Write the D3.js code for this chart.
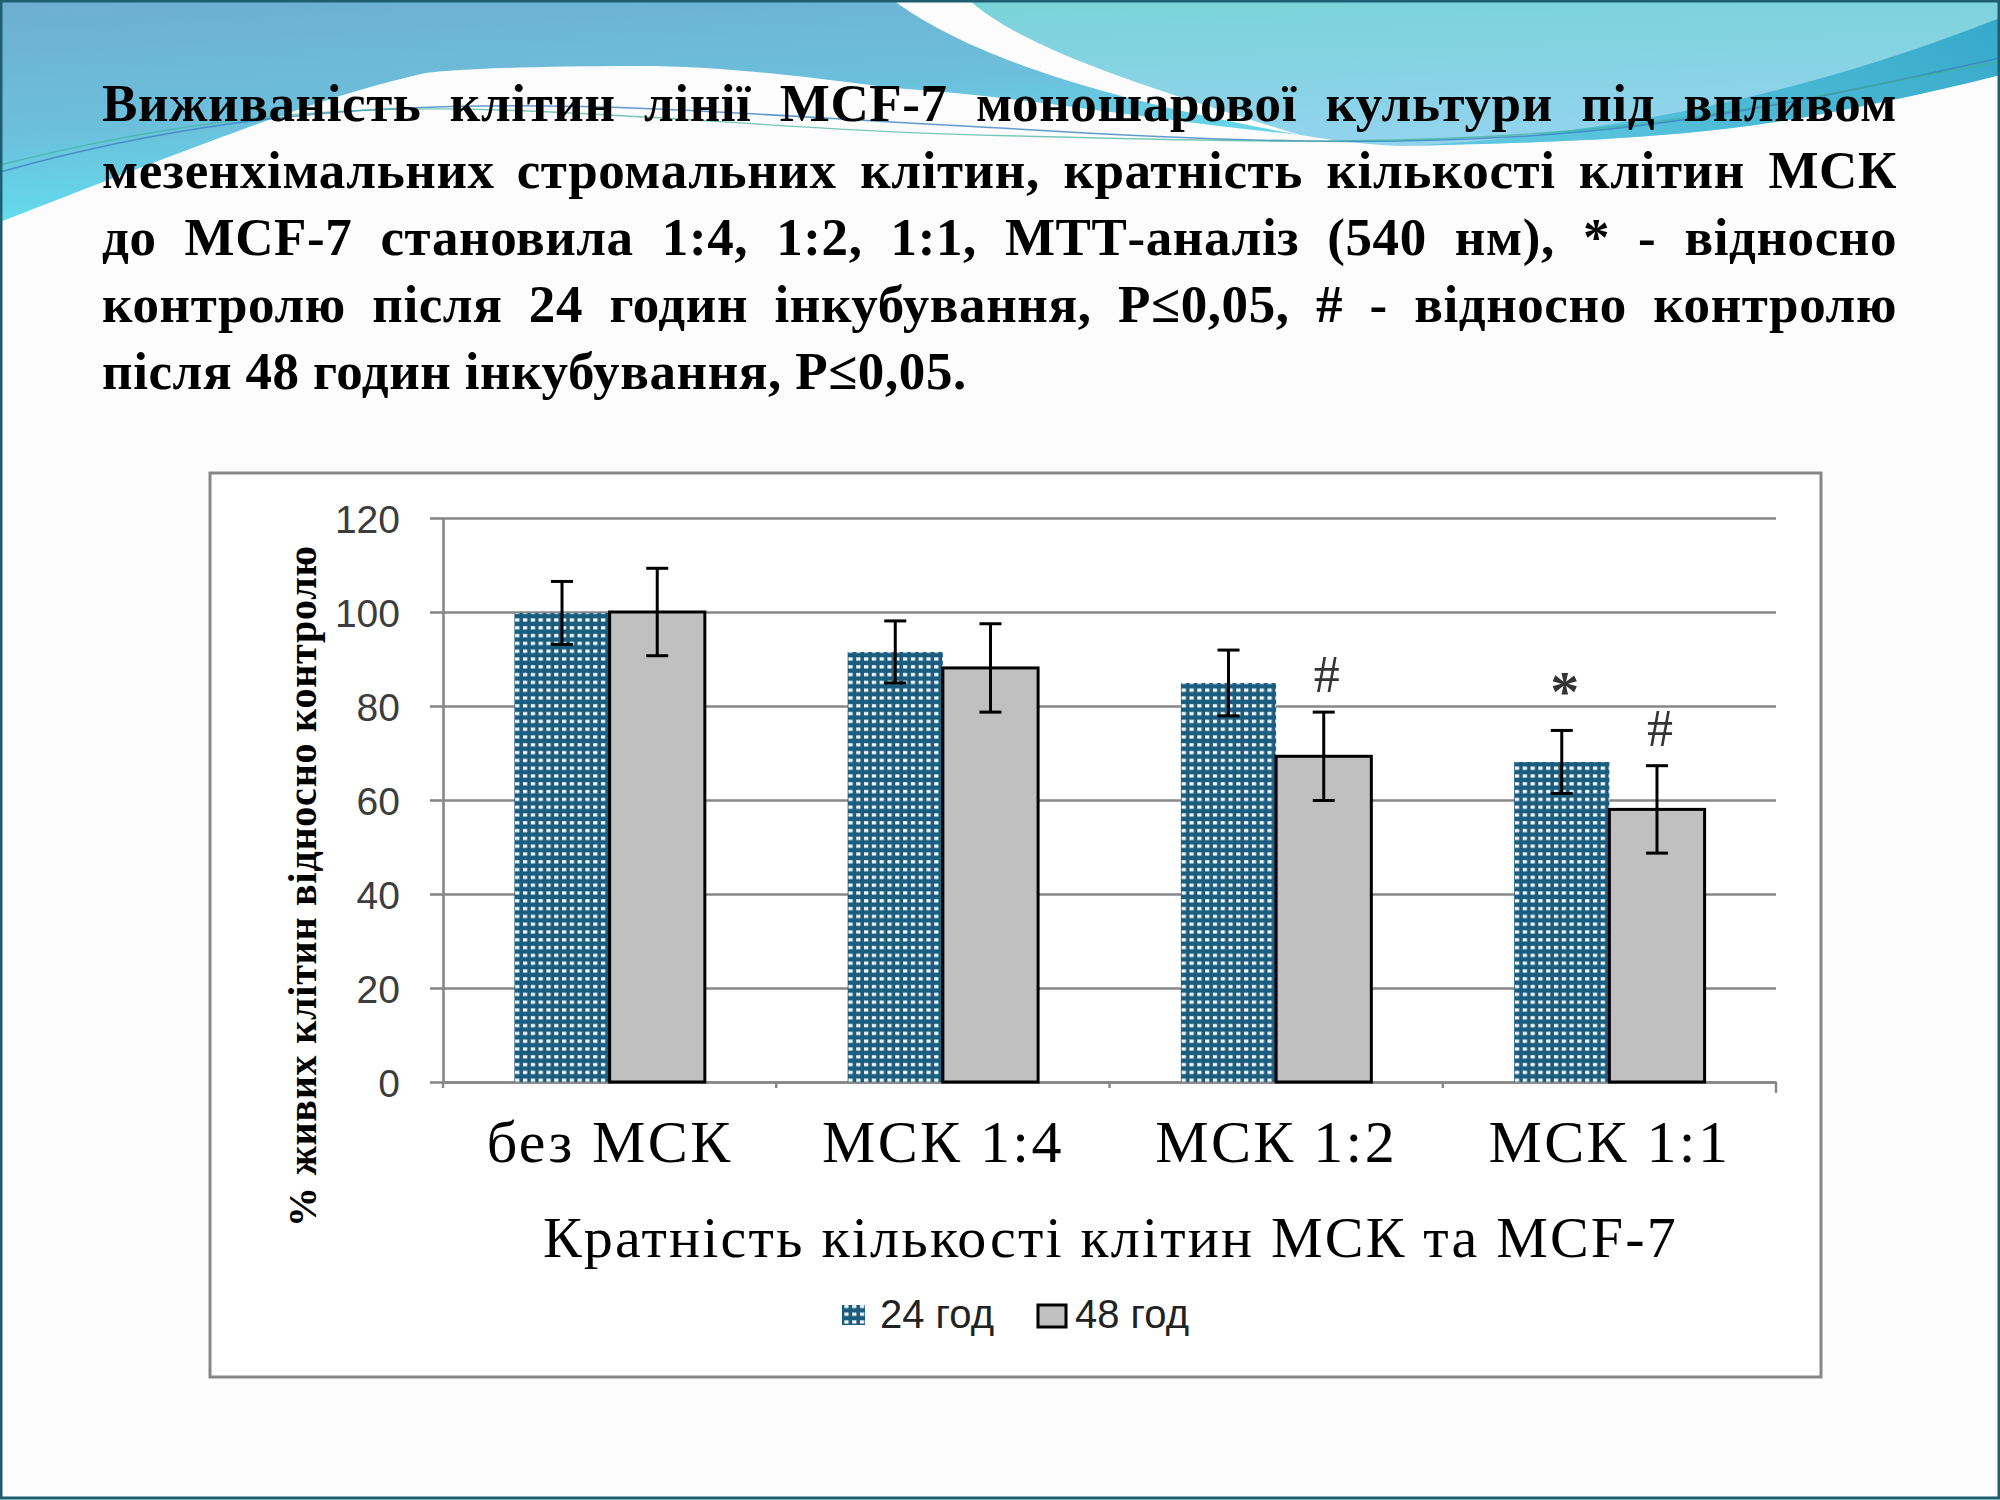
<!DOCTYPE html>
<html>
<head>
<meta charset="utf-8">
<script src="https://cdn.jsdelivr.net/npm/d3@7/dist/d3.min.js"></script>
<style>
  html, body { margin: 0; padding: 0; background: #fcfcfc; }
  svg { display: block; }
</style>
</head>
<body>
<svg id="chart" width="2000" height="1500"></svg>
<script>
// ---------- DATA ----------
const categories = ["без МСК", "МСК 1:4", "МСК 1:2", "МСК 1:1"];
const seriesNames = ["24 год", "48 год"];
const values24 = [99.8, 91.5, 84.9, 68.1];
const errors24 = [6.7, 6.6, 7.0, 6.7];
const values48 = [100.0, 88.1, 69.3, 58.0];
const errors48 = [9.3, 9.4, 9.4, 9.3];
const marks24 = ["", "", "", "*"];
const marks48 = ["", "", "#", "#"];
const yTicks = [0, 20, 40, 60, 80, 100, 120];
const yTitle = "% живих клітин відносно контролю";
const xTitle = "Кратність кількості клітин МСК та MCF-7";
const titleLines = [
  "Виживаність клітин лінії MCF-7 моношарової культури під впливом",
  "мезенхімальних стромальних клітин, кратність кількості клітин МСК",
  "до MCF-7 становила 1:4, 1:2, 1:1, МТТ-аналіз (540 нм), * - відносно",
  "контролю після 24 годин інкубування, P≤0,05, # - відносно контролю",
  "після 48 годин інкубування, P≤0,05."
];

// ---------- SETUP ----------
const svg = d3.select("#chart");
const serif = "'Liberation Serif', 'Times New Roman', serif";
const sans = "'Liberation Sans', Arial, sans-serif";
const defs = svg.append("defs");

// gradients for slide decoration
const gA = defs.append("linearGradient").attr("id", "gA")
  .attr("x1", "0").attr("y1", "0").attr("x2", "0.35").attr("y2", "1");
gA.append("stop").attr("offset", "0").attr("stop-color", "#6eaed0");
gA.append("stop").attr("offset", "0.55").attr("stop-color", "#6cc0dc");
gA.append("stop").attr("offset", "1").attr("stop-color", "#5fe4f2");
const gB = defs.append("linearGradient").attr("id", "gB")
  .attr("x1", "0").attr("y1", "0").attr("x2", "0.2").attr("y2", "1");
gB.append("stop").attr("offset", "0").attr("stop-color", "#79d3d8");
gB.append("stop").attr("offset", "1").attr("stop-color", "#92d3ee");
const gC = defs.append("linearGradient").attr("id", "gC")
  .attr("x1", "1").attr("y1", "0").attr("x2", "0").attr("y2", "0.3");
gC.append("stop").attr("offset", "0").attr("stop-color", "#36a9c9");
gC.append("stop").attr("offset", "1").attr("stop-color", "#5cc6df");

// dotted pattern for 24 h bars
const pat = defs.append("pattern").attr("id", "dots")
  .attr("patternUnits", "userSpaceOnUse").attr("width", 7.8).attr("height", 7.8);
pat.append("rect").attr("width", 7.8).attr("height", 7.8).attr("fill", "#1a5d7f");
pat.append("rect").attr("x", 2).attr("y", 2.2).attr("width", 4.2).attr("height", 3.2).attr("fill", "#ffffff");

// ---------- SLIDE BACKGROUND ----------
const bg = svg.append("g");
bg.append("rect").attr("width", 2000).attr("height", 1500).attr("fill", "#fcfcfc");
// region A (left blue)
bg.append("path").attr("fill", "url(#gA)")
  .attr("d", "M0,0 H893 C960,50 1080,95 1300,135 C1150,120 1020,96 893,88 C800,76 720,66 638,66 C520,66 440,70 421,74 C330,95 250,125 0,222 Z");
// region B (right light)
bg.append("path").attr("fill", "url(#gB)")
  .attr("d", "M969,0 H2000 V75 C1960,85 1900,100 1800,118 C1700,135 1600,142 1400,146 C1360,144 1330,140 1300,135 C1120,80 1020,45 969,0 Z");
// region C (darker teal crescent at right)
bg.append("path").attr("fill", "url(#gC)")
  .attr("d", "M2000,18 C1930,45 1840,78 1700,108 C1600,128 1500,142 1400,146 C1600,142 1700,135 1800,118 C1900,100 1960,85 2000,75 Z");
// thin decorative waves
bg.append("path").attr("fill", "none").attr("stroke", "#3a82c2").attr("stroke-width", 1.6).attr("opacity", 0.8)
  .attr("d", "M0,172 C150,130 300,108 480,106 C650,104 800,118 1000,128 C1200,140 1400,150 1600,130 C1750,115 1900,80 2000,58");
bg.append("path").attr("fill", "none").attr("stroke", "#3fb09a").attr("stroke-width", 1.4).attr("opacity", 0.7)
  .attr("d", "M0,165 C170,122 320,104 500,110 C680,116 820,132 1020,136 C1220,141 1420,148 1620,126 C1780,108 1900,78 2000,62");
// frame
bg.append("rect").attr("x", 1).attr("y", 1).attr("width", 1998).attr("height", 1497)
  .attr("fill", "none").attr("stroke", "#1e5e70").attr("stroke-width", 3);

// ---------- TITLE (justified) ----------
const titleLeft = 102, titleRight = 1897, titleTop = 121, lineStep = 67, titleSize = 53;
titleLines.forEach((line, i) => {
  const words = line.split(" ");
  const t = svg.append("text")
    .attr("font-family", serif).attr("font-weight", "bold").attr("font-size", titleSize)
    .attr("letter-spacing", 0.6)
    .attr("fill", "#000").attr("y", titleTop + i * lineStep);
  const spans = words.map(w => t.append("tspan").text(w));
  const widths = spans.map(s => s.node().getComputedTextLength());
  const total = d3.sum(widths);
  const last = i === titleLines.length - 1;
  const space = titleSize * 0.25;
  const gap = last ? space : (titleRight - titleLeft - total) / (words.length - 1);
  let xPos = titleLeft;
  spans.forEach((s, k) => { s.attr("x", xPos); xPos += widths[k] + gap; });
});

// ---------- CHART BOX ----------
svg.append("rect").attr("x", 210).attr("y", 473).attr("width", 1611).attr("height", 904)
  .attr("fill", "#ffffff").attr("stroke", "#878787").attr("stroke-width", 3);

const plotL = 443, plotR = 1776, plotB = 1082, plotT = 518;
const x = d3.scaleBand().domain(categories).range([plotL, plotR]).paddingInner(0).paddingOuter(0);
const xs = d3.scaleBand().domain(seriesNames).range([0, x.bandwidth()]).paddingInner(0).paddingOuter(0.75);
const y = d3.scaleLinear().domain([0, 120]).range([plotB, plotT]);

// gridlines
svg.append("g").attr("transform", `translate(${plotL},0)`)
  .call(d3.axisLeft(y).tickValues(yTicks).tickSize(-(plotR - plotL)).tickFormat(""))
  .call(g => g.select(".domain").remove())
  .call(g => g.selectAll(".tick line").attr("stroke", "#878787").attr("stroke-width", 2.6));

// y axis with ticks + labels
svg.append("g").attr("transform", `translate(${plotL},0)`)
  .call(d3.axisLeft(y).tickValues(yTicks).tickSize(13).tickSizeOuter(0).tickPadding(30))
  .call(g => g.select(".domain").attr("stroke", "#878787").attr("stroke-width", 2.6))
  .call(g => g.selectAll(".tick line").attr("stroke", "#878787").attr("stroke-width", 2.6))
  .call(g => g.selectAll(".tick text").attr("font-family", sans).attr("font-size", 39)
    .attr("fill", "#3c3c3c").attr("dy", "0.36em"));

// x axis labels
svg.append("g").attr("transform", `translate(0,${plotB})`)
  .call(d3.axisBottom(x).tickSize(0).tickSizeOuter(0))
  .call(g => g.select(".domain").attr("stroke", "#878787").attr("stroke-width", 2.6))
  .call(g => g.selectAll(".tick text").attr("font-family", serif).attr("font-size", 60)
    .attr("letter-spacing", 2.4).attr("fill", "#000").attr("y", 80).attr("dy", null));

// boundary ticks on x axis
const bounds = categories.map(c => x(c)).concat([plotR]);
svg.append("g").selectAll("line").data(bounds).join("line")
  .attr("x1", d => d).attr("x2", d => d)
  .attr("y1", plotB).attr("y2", (d, i) => plotB + (i === bounds.length - 1 ? 11 : 6))
  .attr("stroke", "#878787").attr("stroke-width", 2.4);

// ---------- BARS ----------
const rows = categories.map((c, i) => ({
  cat: c,
  items: [
    { s: seriesNames[0], v: values24[i], e: errors24[i], m: marks24[i] },
    { s: seriesNames[1], v: values48[i], e: errors48[i], m: marks48[i] }
  ]
}));
const groups = svg.append("g").selectAll("g").data(rows).join("g")
  .attr("transform", d => `translate(${x(d.cat)},0)`);

groups.selectAll("rect").data(d => d.items).join("rect")
  .attr("x", d => xs(d.s))
  .attr("width", xs.bandwidth())
  .attr("y", d => y(d.v))
  .attr("height", d => y(0) - y(d.v))
  .attr("fill", d => d.s === seriesNames[0] ? "url(#dots)" : "#c0c0c0")
  .attr("stroke", d => d.s === seriesNames[0] ? "none" : "#000")
  .attr("stroke-width", 3);

// error bars
const cap = 11;
const eb = groups.selectAll("g.err").data(d => d.items).join("g").attr("class", "err")
  .attr("stroke", "#000").attr("stroke-width", 3);
eb.append("line")
  .attr("x1", d => xs(d.s) + xs.bandwidth() / 2).attr("x2", d => xs(d.s) + xs.bandwidth() / 2)
  .attr("y1", d => y(d.v + d.e)).attr("y2", d => y(d.v - d.e));
eb.append("line")
  .attr("x1", d => xs(d.s) + xs.bandwidth() / 2 - cap).attr("x2", d => xs(d.s) + xs.bandwidth() / 2 + cap)
  .attr("y1", d => y(d.v + d.e)).attr("y2", d => y(d.v + d.e));
eb.append("line")
  .attr("x1", d => xs(d.s) + xs.bandwidth() / 2 - cap).attr("x2", d => xs(d.s) + xs.bandwidth() / 2 + cap)
  .attr("y1", d => y(d.v - d.e)).attr("y2", d => y(d.v - d.e));

// significance marks
groups.selectAll("text.mark").data(d => d.items.filter(it => it.m)).join("text").attr("class", "mark")
  .attr("x", d => xs(d.s) + xs.bandwidth() / 2 + 3)
  .attr("y", d => y(d.v + d.e) - (d.m === "*" ? 19 : 20))
  .attr("text-anchor", "middle")
  .attr("font-family", serif).attr("font-size", d => d.m === "*" ? 58 : 52)
  .attr("font-weight", d => d.m === "*" ? "bold" : "normal")
  .attr("fill", "#333")
  .text(d => d.m);

// ---------- AXIS TITLES ----------
svg.append("text")
  .attr("transform", "translate(316,886) rotate(-90)")
  .attr("text-anchor", "middle")
  .attr("font-family", serif).attr("font-weight", "bold").attr("font-size", 40)
  .attr("letter-spacing", 0.8)
  .attr("fill", "#000")
  .text(yTitle);

svg.append("text")
  .attr("x", (plotL + plotR) / 2 + 1).attr("y", 1257)
  .attr("text-anchor", "middle")
  .attr("font-family", serif).attr("font-size", 58)
  .attr("letter-spacing", 2.2)
  .attr("fill", "#000")
  .text(xTitle);

// ---------- LEGEND ----------
const legend = svg.append("g");
legend.append("rect").attr("x", 842).attr("y", 1305).attr("width", 23).attr("height", 20).attr("fill", "url(#dots)");
legend.append("text").attr("x", 880).attr("y", 1328)
  .attr("font-family", sans).attr("font-size", 40).attr("fill", "#222").text(seriesNames[0]);
legend.append("rect").attr("x", 1038).attr("y", 1305).attr("width", 28).attr("height", 22)
  .attr("fill", "#c0c0c0").attr("stroke", "#000").attr("stroke-width", 3);
legend.append("text").attr("x", 1075).attr("y", 1328)
  .attr("font-family", sans).attr("font-size", 40).attr("fill", "#222").text(seriesNames[1]);
</script>
</body>
</html>
